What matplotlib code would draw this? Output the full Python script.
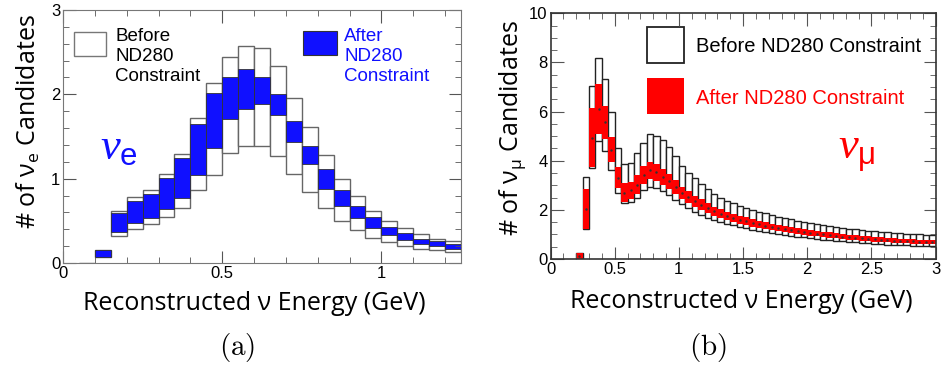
import numpy as np
import matplotlib
matplotlib.use("Agg")
import matplotlib.pyplot as plt
from matplotlib.patches import Rectangle
from matplotlib.ticker import MultipleLocator

# nu_e panel: bin low edges (GeV), bands before / after the ND280 constraint
e_edges = [0.05, 0.10, 0.15, 0.20, 0.25, 0.30, 0.35, 0.40, 0.45, 0.50, 0.55, 0.60,
           0.65, 0.70, 0.75, 0.80, 0.85, 0.90, 0.95, 1.00, 1.05, 1.10, 1.15, 1.20]
e_before_lo = [0.0, 0.07, 0.32, 0.40, 0.46, 0.54, 0.65, 0.86, 1.04, 1.31, 1.39, 1.39,
               1.27, 1.05, 0.84, 0.65, 0.50, 0.39, 0.30, 0.25, 0.20, 0.17, 0.15, 0.13]
e_before_hi = [0.0, 0.15, 0.62, 0.78, 0.86, 1.05, 1.29, 1.72, 2.14, 2.44, 2.57, 2.55,
               2.34, 1.96, 1.61, 1.28, 1.00, 0.79, 0.62, 0.50, 0.41, 0.34, 0.29, 0.26]
e_after_lo = [0.0, 0.07, 0.37, 0.47, 0.53, 0.64, 0.77, 1.04, 1.36, 1.71, 1.83, 1.89,
              1.76, 1.44, 1.17, 0.88, 0.68, 0.53, 0.41, 0.33, 0.27, 0.22, 0.20, 0.17]
e_after_hi = [0.0, 0.15, 0.59, 0.74, 0.82, 1.01, 1.25, 1.65, 2.01, 2.21, 2.30, 2.21,
              2.00, 1.68, 1.39, 1.11, 0.87, 0.68, 0.54, 0.43, 0.35, 0.29, 0.26, 0.22]

# nu_mu panel
mu_edges = [0.20, 0.25, 0.30, 0.35, 0.40, 0.45, 0.50, 0.55, 0.60, 0.65, 0.70, 0.75,
            0.80, 0.85, 0.90, 0.95, 1.00, 1.05, 1.10, 1.15, 1.20, 1.25, 1.30, 1.35,
            1.40, 1.45, 1.50, 1.55, 1.60, 1.65, 1.70, 1.75, 1.80, 1.85, 1.90, 1.95,
            2.00, 2.05, 2.10, 2.15, 2.20, 2.25, 2.30, 2.35, 2.40, 2.45, 2.50, 2.55,
            2.60, 2.65, 2.70, 2.75, 2.80, 2.85, 2.90, 2.95]
mu_before_lo = [0.0, 1.22, 3.69, 4.81, 4.41, 3.62, 2.70, 2.26, 2.32, 2.49, 2.81, 2.94,
                2.90, 2.77, 2.60, 2.40, 2.22, 2.06, 1.93, 1.79, 1.68, 1.59, 1.51, 1.44,
                1.37, 1.31, 1.25, 1.20, 1.15, 1.11, 1.06, 1.02, 0.98, 0.95, 0.91, 0.88,
                0.85, 0.82, 0.79, 0.77, 0.74, 0.72, 0.70, 0.68, 0.66, 0.64, 0.62, 0.60,
                0.59, 0.57, 0.56, 0.55, 0.54, 0.53, 0.52, 0.51]
mu_before_hi = [0.26, 3.35, 7.05, 8.19, 7.34, 5.97, 4.50, 3.86, 3.92, 4.33, 4.73, 5.08,
                5.02, 4.84, 4.54, 4.20, 3.80, 3.51, 3.28, 3.05, 2.85, 2.63, 2.50, 2.38,
                2.27, 2.17, 2.08, 2.00, 1.93, 1.86, 1.79, 1.72, 1.66, 1.61, 1.56, 1.51,
                1.47, 1.43, 1.39, 1.35, 1.31, 1.27, 1.24, 1.21, 1.18, 1.15, 1.12, 1.10,
                1.08, 1.06, 1.04, 1.03, 1.01, 1.00, 0.99, 0.98]
mu_after_lo = [0.0, 1.22, 3.73, 5.08, 4.88, 3.93, 2.90, 2.33, 2.43, 2.64, 3.05, 3.25,
               3.19, 3.02, 2.85, 2.64, 2.43, 2.26, 2.13, 1.99, 1.86, 1.75, 1.66, 1.58,
               1.51, 1.44, 1.38, 1.32, 1.27, 1.22, 1.17, 1.13, 1.09, 1.05, 1.01, 0.98,
               0.95, 0.92, 0.89, 0.86, 0.84, 0.81, 0.79, 0.77, 0.75, 0.73, 0.71, 0.69,
               0.68, 0.66, 0.65, 0.64, 0.63, 0.62, 0.61, 0.60]
mu_after_hi = [0.26, 2.85, 6.13, 7.12, 6.24, 4.98, 3.73, 3.08, 3.15, 3.42, 3.78, 3.96,
               3.86, 3.66, 3.46, 3.21, 2.94, 2.77, 2.56, 2.43, 2.26, 2.13, 2.02, 1.93,
               1.84, 1.76, 1.69, 1.62, 1.56, 1.50, 1.44, 1.39, 1.34, 1.30, 1.25, 1.21,
               1.18, 1.14, 1.11, 1.08, 1.05, 1.02, 0.99, 0.96, 0.94, 0.92, 0.90, 0.88,
               0.86, 0.84, 0.83, 0.82, 0.80, 0.79, 0.78, 0.77]

bw = 0.05
tick_font = "Liberation Sans"
label_font = "Open Sans"

# serif italic nu with sans upright flavour subscripts
plt.rcParams["mathtext.it"] = "Liberation Serif:italic"
plt.rcParams["mathtext.rm"] = "Liberation Sans"

fig = plt.figure(figsize=(9.42, 3.68), dpi=100)
axL = fig.add_axes([0.0669, 0.2853, 0.4225, 0.6875])
axR = fig.add_axes([0.5844, 0.2962, 0.4087, 0.6677])


def bands(ax, edges, lo, hi, fc, ec, lw):
    lo = np.array(lo)
    hi = np.array(hi)
    ax.bar(edges, hi - lo, bottom=lo, width=bw, align="edge",
           facecolor=fc, edgecolor=ec, linewidth=lw)


# left: nu_e
bands(axL, e_edges, e_before_lo, e_before_hi, "white", "#666666", 1.0)
bands(axL, e_edges, e_after_lo, e_after_hi, "#1010ff", "#333333", 0.6)
axL.set_xlim(0, 1.25)
axL.set_ylim(0, 3)
axL.xaxis.set_major_locator(MultipleLocator(0.5))
axL.xaxis.set_minor_locator(MultipleLocator(0.1))
axL.yaxis.set_major_locator(MultipleLocator(1))
axL.yaxis.set_minor_locator(MultipleLocator(0.2))
axL.set_xticks([0, 0.5, 1], ["0", "0.5", "1"])
for s in axL.spines.values():
    s.set_color("#777777")

# right: nu_mu
bands(axR, mu_edges, mu_before_lo, mu_before_hi, "white", "#222222", 1.0)
bands(axR, mu_edges, mu_after_lo, mu_after_hi, "#ff0000", "none", 0)
mid = (np.array(mu_after_lo) + np.array(mu_after_hi)) / 2
axR.plot(np.array(mu_edges) + bw / 2, mid, ls="none", marker=".", ms=1.5, color="#333333")
axR.set_xlim(0, 3)
axR.set_ylim(0, 10)
axR.xaxis.set_major_locator(MultipleLocator(0.5))
axR.xaxis.set_minor_locator(MultipleLocator(0.1))
axR.yaxis.set_major_locator(MultipleLocator(2))
axR.yaxis.set_minor_locator(MultipleLocator(0.5))
axR.set_xticks([0, 0.5, 1, 1.5, 2, 2.5, 3], ["0", "0.5", "1", "1.5", "2", "2.5", "3"])
for s in axR.spines.values():
    s.set_color("#333333")
    s.set_linewidth(1.2)

for ax in (axL, axR):
    ax.tick_params(which="both", direction="in", top=True, right=True, colors="#555555",
                   labelcolor="black", labelsize=12, pad=2)
    ax.tick_params(which="major", length=9)
    ax.tick_params(which="minor", length=4.5)
    for lab in ax.get_xticklabels() + ax.get_yticklabels():
        lab.set_fontfamily(tick_font)

# legends (left)
axL.add_patch(Rectangle((0.0276, 0.818), 0.080, 0.095, transform=axL.transAxes,
                        facecolor="white", edgecolor="#777777", lw=1.0))
axL.text(0.131, 0.93, "Before\nND280\nConstraint", transform=axL.transAxes,
         ha="left", va="top", fontsize=13.5, family=tick_font, linespacing=1.23)
axL.add_patch(Rectangle((0.603, 0.822), 0.085, 0.095, transform=axL.transAxes,
                        facecolor="#1010ff", edgecolor="#333333", lw=0.8))
axL.text(0.706, 0.93, "After\nND280\nConstraint", transform=axL.transAxes,
         ha="left", va="top", fontsize=13.5, family=tick_font, linespacing=1.23,
         color="#1010ff")
axL.text(0.14, 0.46, r"$\mathit{\nu}_{\mathrm{e}}$", transform=axL.transAxes,
         ha="center", va="center", fontsize=32, color="#1010ff", math_fontfamily="custom")

# legends (right)
axR.add_patch(Rectangle((0.251, 0.798), 0.096, 0.146, transform=axR.transAxes,
                        facecolor="white", edgecolor="#222222", lw=1.3))
axR.text(0.378, 0.863, "Before ND280 Constraint", transform=axR.transAxes,
         ha="left", va="center", fontsize=14.5, family=tick_font)
axR.add_patch(Rectangle((0.251, 0.590), 0.096, 0.147, transform=axR.transAxes,
                        facecolor="#ff0000", edgecolor="none"))
axR.text(0.378, 0.655, "After ND280 Constraint", transform=axR.transAxes,
         ha="left", va="center", fontsize=14.5, family=tick_font, color="#ff0000")
axR.text(0.795, 0.43, r"$\mathit{\nu}_{\mathrm{\mu}}$", transform=axR.transAxes,
         ha="center", va="center", fontsize=32, color="#ff0000", math_fontfamily="custom")

# axis titles
fig.text(28 / 942, 1 - 122 / 368, r"# of $\mathregular{\nu_e}$ Candidates", rotation=90,
         ha="center", va="center", fontsize=18, family=label_font)
fig.text(512 / 942, 1 - 128 / 368, r"# of $\mathregular{\nu_\mu}$ Candidates", rotation=90,
         ha="center", va="center", fontsize=18, family=label_font)
fig.text(254 / 942, 1 - 303 / 368, "Reconstructed ν Energy (GeV)", ha="center",
         va="center", fontsize=18, family=label_font)
fig.text(741 / 942, 1 - 301 / 368, "Reconstructed ν Energy (GeV)", ha="center",
         va="center", fontsize=18, family=label_font)

# captions
fig.text(237 / 942, 1 - 348 / 368, r"$\mathrm{(a)}$", ha="center", va="center",
         fontsize=21, math_fontfamily="cm")
fig.text(708 / 942, 1 - 348 / 368, r"$\mathrm{(b)}$", ha="center", va="center",
         fontsize=21, math_fontfamily="cm")

fig.savefig("out.png", dpi=100)
